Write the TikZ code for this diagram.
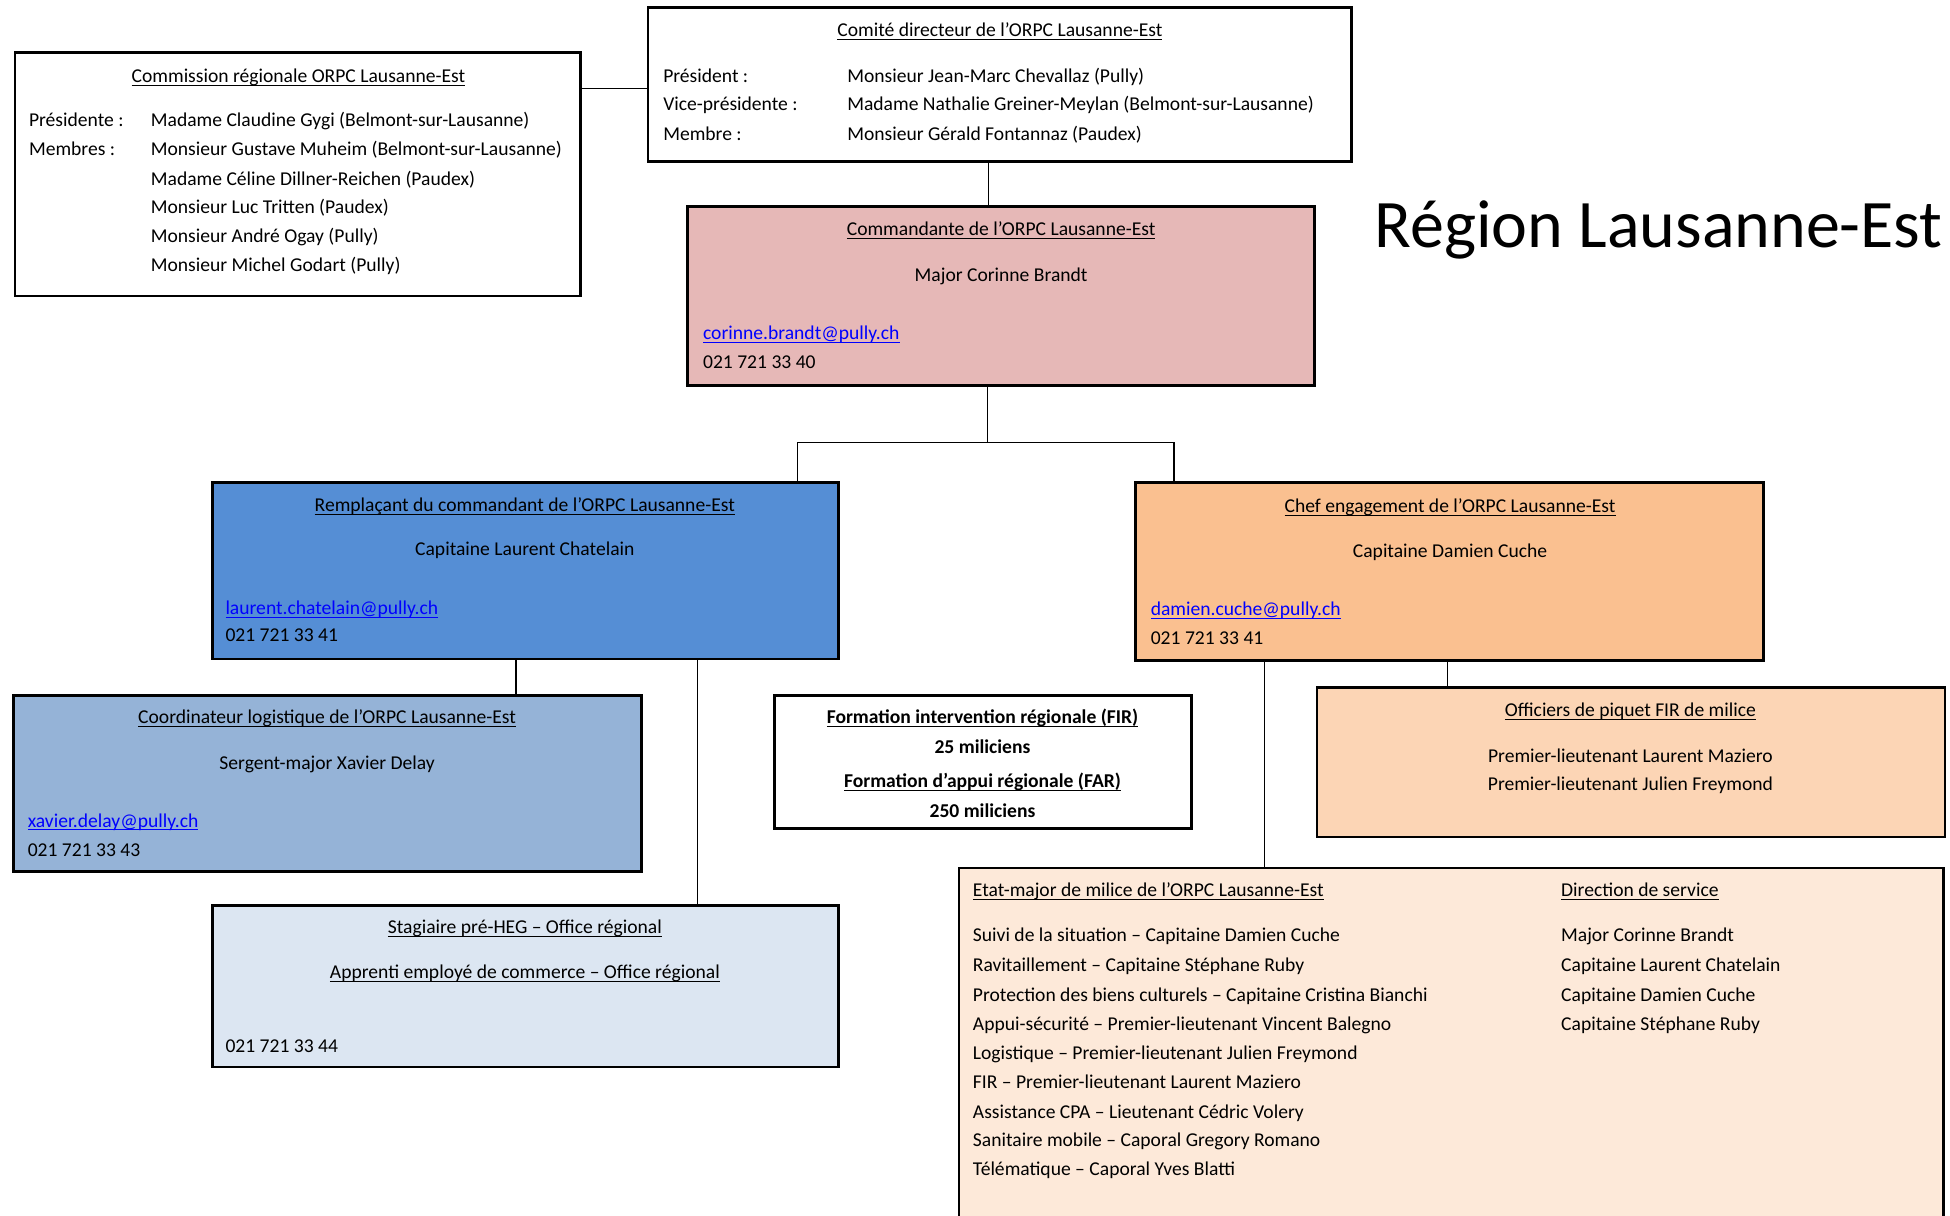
\documentclass[tikz,border=0pt]{standalone}
\usepackage{fontspec}
\setmainfont{Carlito}
\usetikzlibrary{fit}
\definecolor{cmdfill}{HTML}{E6B8B7}
\definecolor{remfill}{HTML}{558ED5}
\definecolor{coofill}{HTML}{95B3D7}
\definecolor{stafill}{HTML}{DCE6F2}
\definecolor{cheffill}{HTML}{FAC090}
\definecolor{offfill}{HTML}{FCD5B5}
\definecolor{emfill}{HTML}{FDE9D9}
\definecolor{linkblue}{HTML}{0000FF}
\newcommand\myul[1]{\underline{\smash{#1}}}
\newcommand\bodyfont{\fontsize{9.45}{14}\selectfont}
\begin{document}
\begin{tikzpicture}[x=0.6pt,y=-0.6pt,
  box/.style={draw=black, line width=1.3pt, inner sep=0pt},
  conn/.style={draw=black, line width=0.6pt},
  lt/.style={anchor=mid west, inner sep=0pt, font=\bodyfont, yshift=-1.2pt},
  ct/.style={anchor=mid, inner sep=0pt, font=\bodyfont, yshift=-1.2pt},
  lnk/.style={lt, text=linkblue}]
\useasboundingbox (0,0) rectangle (1568,977);
\begin{scope}
\clip (0,0) rectangle (1568,977);
% boxes
\node[box, fit={(12,42)(467,238)}] (com) {};
\node[box, fit={(521,6)(1087,130)}] (comite) {};
\node[box, fill=cmdfill, fit={(553,166)(1057,310)}] (cmd) {};
\node[box, fill=remfill, fit={(171,388)(674,530)}] (rem) {};
\node[box, fill=cheffill, fit={(913,388)(1418,531)}] (chef) {};
\node[box, fill=coofill, fit={(11,559)(516,701)}] (coord) {};
\node[box, fit={(623,559)(958,666)}] (fir) {};
\node[box, fill=stafill, fit={(171,728)(674,858)}] (stag) {};
\node[box, fill=offfill, fit={(1059,553)(1564,673)}] (off) {};
\node[box, fill=emfill, fit={(771,698)(1563,1010)}] (em) {};
% connectors
\coordinate (ya) at (0,71);
\coordinate (xa) at (795,0);
\coordinate (xb) at (794,0);
\coordinate (bus) at (0,356);
\coordinate (xc) at (641,0);
\coordinate (xd) at (944,0);
\coordinate (xe) at (415,0);
\coordinate (xf) at (561,0);
\coordinate (xg) at (1017,0);
\coordinate (xh) at (1164,0);
\draw[conn] (com.east |- ya) -- (comite.west |- ya);
\draw[conn] (xa |- comite.south) -- (xa |- cmd.north);
\draw[conn] (xb |- cmd.south) -- (xb |- bus);
\draw[conn] (xc |- rem.north) -- (xc |- bus) -- (xd |- bus) -- (xd |- chef.north);
\draw[conn] (xe |- rem.south) -- (xe |- coord.north);
\draw[conn] (xf |- rem.south) -- (xf |- stag.north);
\draw[conn] (xg |- chef.south) -- (xg |- em.north);
\draw[conn] (xh |- chef.south) -- (xh |- off.north);
% Commission
\node[ct] (comT) at (240,60) {\myul{Commission régionale ORPC Lausanne-Est}};
\node[lt] (comL1) at (23,96) {Présidente :};
\node[lt] (comL2) at (23,119) {Membres :};
\node[lt] (comN1) at (121,96) {Madame Claudine Gygi (Belmont-sur-Lausanne)};
\node[lt] (comN2) at (121,119) {Monsieur Gustave Muheim (Belmont-sur-Lausanne)};
\node[lt] (comN3) at (121,143) {Madame Céline Dillner-Reichen (Paudex)};
\node[lt] (comN4) at (121,166) {Monsieur Luc Tritten (Paudex)};
\node[lt] (comN5) at (121,189) {Monsieur André Ogay (Pully)};
\node[lt] (comN6) at (121,212) {Monsieur Michel Godart (Pully)};
% Comite
\node[ct] (ctT) at (804,23) {\myul{Comité directeur de l’ORPC Lausanne-Est}};
\node[lt] (ctL1) at (533,60) {Président :};
\node[lt] (ctL2) at (533,83) {Vice-présidente :};
\node[lt] (ctL3) at (533,107) {Membre :};
\node[lt] (ctN1) at (681,60) {Monsieur Jean-Marc Chevallaz (Pully)};
\node[lt] (ctN2) at (681,83) {Madame Nathalie Greiner-Meylan (Belmont-sur-Lausanne)};
\node[lt] (ctN3) at (681,107) {Monsieur Gérald Fontannaz (Paudex)};
% Commandante
\node[ct] (cmdT) at (805,183) {\myul{Commandante de l’ORPC Lausanne-Est}};
\node[ct] (cmdN) at (805,220) {Major Corinne Brandt};
\node[lnk] (cmdE) at (565,267) {\myul{corinne.brandt@pully.ch}};
\node[lt] (cmdP) at (565,290) {021 721 33 40};
% Remplacant
\node[ct] (remT) at (422,405) {\myul{Remplaçant du commandant de l’ORPC Lausanne-Est}};
\node[ct] (remN) at (422,441) {Capitaine Laurent Chatelain};
\node[lnk] (remE) at (181,488) {\myul{laurent.chatelain@pully.ch}};
\node[lt] (remP) at (181,510) {021 721 33 41};
% Chef
\node[ct] (chefT) at (1166,406) {\myul{Chef engagement de l’ORPC Lausanne-Est}};
\node[ct] (chefN) at (1166,442) {Capitaine Damien Cuche};
\node[lnk] (chefE) at (925,489) {\myul{damien.cuche@pully.ch}};
\node[lt] (chefP) at (925,512) {021 721 33 41};
% Coordinateur
\node[ct] (cooT) at (263,576) {\myul{Coordinateur logistique de l’ORPC Lausanne-Est}};
\node[ct] (cooN) at (263,613) {Sergent-major Xavier Delay};
\node[lnk] (cooE) at (22,659) {\myul{xavier.delay@pully.ch}};
\node[lt] (cooP) at (22,683) {021 721 33 43};
% FIR
\node[ct, font=\bodyfont\bfseries] (fir1) at (790,576) {\myul{Formation intervention régionale (FIR)}};
\node[ct, font=\bodyfont\bfseries] (fir2) at (790,600) {25 miliciens};
\node[ct, font=\bodyfont\bfseries] (fir3) at (790,627) {\myul{Formation d’appui régionale (FAR)}};
\node[ct, font=\bodyfont\bfseries] (fir4) at (790,651) {250 miliciens};
% Stagiaire
\node[ct] (staT) at (422,745) {\myul{Stagiaire pré-HEG – Office régional}};
\node[ct] (staT2) at (422,781) {\myul{Apprenti employé de commerce – Office régional}};
\node[lt] (staP) at (181,840) {021 721 33 44};
% Officiers
\node[ct] (offT) at (1311,570) {\myul{Officiers de piquet FIR de milice}};
\node[ct] (offN1) at (1311,607) {Premier-lieutenant Laurent Maziero};
\node[ct] (offN2) at (1311,630) {Premier-lieutenant Julien Freymond};
% Etat-major
\node[lt] (emT) at (782,715) {\myul{Etat-major de milice de l’ORPC Lausanne-Est}};
\node[lt] (em1) at (782,751) {Suivi de la situation – Capitaine Damien Cuche};
\node[lt] (em2) at (782,775) {Ravitaillement – Capitaine Stéphane Ruby};
\node[lt] (em3) at (782,799) {Protection des biens culturels – Capitaine Cristina Bianchi};
\node[lt] (em4) at (782,823) {Appui-sécurité – Premier-lieutenant Vincent Balegno};
\node[lt] (em5) at (782,846) {Logistique – Premier-lieutenant Julien Freymond};
\node[lt] (em6) at (782,869) {FIR – Premier-lieutenant Laurent Maziero};
\node[lt] (em7) at (782,893) {Assistance CPA – Lieutenant Cédric Volery};
\node[lt] (em8) at (782,916) {Sanitaire mobile – Caporal Gregory Romano};
\node[lt] (em9) at (782,939) {Télématique – Caporal Yves Blatti};
\node[lt] (dsT) at (1255,715) {\myul{Direction de service}};
\node[lt] (ds1) at (1255,751) {Major Corinne Brandt};
\node[lt] (ds2) at (1255,775) {Capitaine Laurent Chatelain};
\node[lt] (ds3) at (1255,799) {Capitaine Damien Cuche};
\node[lt] (ds4) at (1255,823) {Capitaine Stéphane Ruby};
% Region title
\node[anchor=mid west, inner sep=0pt, yshift=-6pt, font=\fontsize{32.8}{38}\selectfont] (region) at (1105,185) {Région Lausanne-Est};
\end{scope}
\end{tikzpicture}
\end{document}
